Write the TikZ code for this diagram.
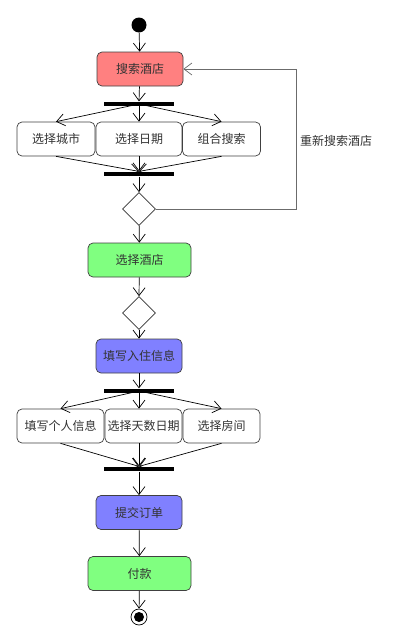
\documentclass[tikz,border=0pt]{standalone}
\usepackage{fontspec}
\setmainfont{Noto Sans CJK SC}
\usetikzlibrary{arrows.meta, shapes.geometric}
\definecolor{cpink}{HTML}{FF8080}
\definecolor{cgreen}{HTML}{80FF80}
\definecolor{cblue}{HTML}{8080FF}
\definecolor{cgrey}{HTML}{6B6B6B}
\tikzset{
  every picture/.style={line width=0.7pt},
  act/.style={draw=black!75, fill=#1, rounded corners=5pt, inner sep=0pt, minimum width=86pt, minimum height=34pt, text=black!80},
  act/.default=white,
  wideact/.style={act=#1, minimum width=103pt},
  subact/.style={act, minimum width=78pt},
  bar/.style={fill=black, inner sep=0pt, minimum width=70pt, minimum height=4.5pt},
  choice/.style={diamond, draw=black!80, fill=white, inner sep=0pt, minimum width=33pt, minimum height=33pt},
  arrow/.style={-{Straight Barb[length=8pt, width=12pt]}, draw=black},
  note/.style={text=black!80},
}
\begin{document}
\begin{tikzpicture}[x=1pt, y=-1pt, every node/.append style={font=\fontsize{12}{14}\selectfont}]
  \useasboundingbox (0,0) rectangle (400,643);
  % start
  \node[circle, fill=black, inner sep=0pt, minimum size=15pt] (start) at (139,25) {};
  \node[act=cpink] (search) at (140,69) {搜索酒店};
  \node[bar] (fork1) at (139,104) {};
  \node[subact] (city) at (56,139) {选择城市};
  \node[act] (date) at (139,139) {选择日期};
  \node[subact] (combo) at (221.5,139) {组合搜索};
  \node[bar] (join1) at (139,174) {};
  \node[choice] (dec1) at (139,209) {};
  \node[wideact=cgreen] (hotel) at (139.5,260) {选择酒店};
  \node[choice] (dec2) at (139,313) {};
  \node[act=cblue] (fill) at (139,356) {填写入住信息};
  \node[bar] (fork2) at (139,391) {};
  \node[act, minimum width=87pt] (person) at (60.5,426) {填写个人信息};
  \node[subact, minimum width=77pt] (days) at (143.5,426) {选择天数日期};
  \node[subact, minimum width=77pt] (room) at (221.5,426) {选择房间};
  \node[bar] (join2) at (139,469) {};
  \node[act=cblue] (submit) at (139,512.5) {提交订单};
  \node[wideact=cgreen] (pay) at (139.5,573.5) {付款};
  % end
  \node[circle, draw=black, fill=white, inner sep=0pt, minimum size=16pt] (end) at (139,617) {};
  \fill[black] (end.center) circle (5pt);

  \draw[arrow] (start) -- (search);
  \draw[arrow] (search) -- (fork1.north);
  \foreach \t in {city, date, combo} \draw[arrow] (fork1.center) -- (\t.north);
  \foreach \t in {city, date, combo} \draw[arrow] (\t.south) -- (join1.north);
  \draw[arrow] (join1) -- (dec1.north);
  \draw[arrow] (dec1) -- (hotel);
  % loop back
  \coordinate (back) at (296,209);
  \draw[arrow, draw=cgrey] (dec1.east) -- (back) |- (search.east);
  \node[note] (backlabel) at (336,141) {重新搜索酒店};
  \draw[arrow] (hotel) -- (dec2.north);
  \draw[arrow] (dec2) -- (fill);
  \draw[arrow] (fill) -- (fork2.north);
  \draw[arrow] (fork2.center) -- (person.north);
  \draw[arrow] (fork2.center) -- (fork2.center |- days.north);
  \draw[arrow] (fork2.center) -- (room.north);
  \draw[arrow] (person.south) -- (join2.north);
  \draw[arrow] (fork2.center |- days.south) -- (join2.north);
  \draw[arrow] (room.south) -- (join2.north);
  \draw[arrow] (join2) -- (submit);
  \draw[arrow] (submit) -- (pay);
  \draw[arrow] (pay) -- (end);
\end{tikzpicture}
\end{document}
